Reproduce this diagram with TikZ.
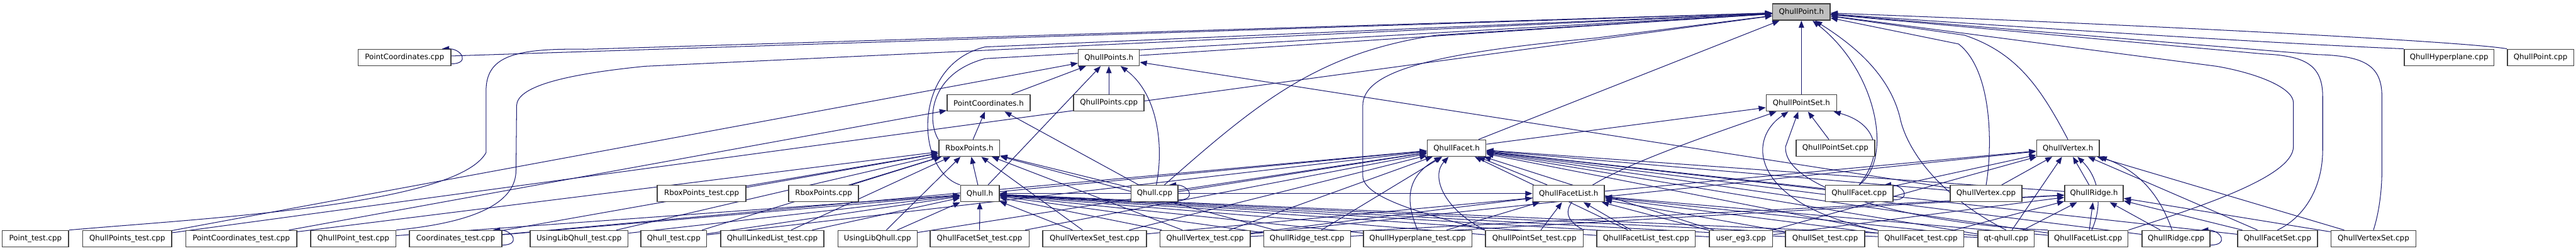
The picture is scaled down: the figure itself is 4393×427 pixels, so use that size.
\documentclass[tikz,border=0pt]{standalone}
\usepackage{fontspec}
\setmainfont{DejaVu Sans}
\usetikzlibrary{arrows.meta,backgrounds}
\definecolor{edgeNavy}{RGB}{25,25,112}
\definecolor{boxEdge}{RGB}{64,64,64}
\definecolor{rootGray}{RGB}{191,191,191}
\tikzset{
  fileBox/.style={draw=boxEdge,line width=0.8pt,fill=white,inner sep=0pt,
    minimum height=14pt,minimum width=#1*0.5pt,
    font=\fontsize{6.35}{7.6}\selectfont},
  rootBox/.style={fileBox=#1,fill=rootGray},
  incEdge/.style={draw=edgeNavy,line width=0.55pt,-{Triangle[length=6pt,width=4.6pt]}}
}
\newcommand{\SelfLoop}[1]{%
  \draw[incEdge] ([yshift=2pt]#1.south east) .. controls +(32,0) and +(34,0) .. ([xshift=-8pt]#1.north east);}

\begin{document}
\begin{tikzpicture}[x=0.5pt,y=-0.5pt]
\useasboundingbox (0,0) rectangle (4393,427);

% the file itself
\node[rootBox=98] (qpointh) at (3072,20.5) {QhullPoint.h};

% headers and sources, top to bottom
\node[fileBox=158] (pccpp) at (690,98) {PointCoordinates.cpp};
\node[fileBox=104] (qpointsh) at (1891,98) {QhullPoints.h};
\node[fileBox=153] (qhypcpp) at (4176.5,98) {QhullHyperplane.cpp};
\node[fileBox=113] (qpointcpp) at (4332.5,98) {QhullPoint.cpp};

\node[fileBox=142] (pch) at (1686,175.5) {PointCoordinates.h};
\node[fileBox=120] (qpointscpp) at (1891,175.5) {QhullPoints.cpp};
\node[fileBox=120] (qpseth) at (3072,175.5) {QhullPointSet.h};

\node[fileBox=104] (rboxh) at (1653,252.5) {RboxPoints.h};
\node[fileBox=100] (qfaceth) at (2484,252.5) {QhullFacet.h};
\node[fileBox=134] (qpsetcpp) at (3130,252.5) {QhullPointSet.cpp};
\node[fileBox=107] (qvertexh) at (3526.5,252.5) {QhullVertex.h};

\node[fileBox=151] (rboxtest) at (1196.5,330) {RboxPoints\_test.cpp};
\node[fileBox=119] (rboxcpp) at (1404.5,330) {RboxPoints.cpp};
\node[fileBox=66] (qhullh) at (1671,330) {Qhull.h};
\node[fileBox=80] (qhullcpp) at (1969,330) {Qhull.cpp};
\node[fileBox=122] (qflisth) at (2675,330) {QhullFacetList.h};
\node[fileBox=115] (qfacetcpp) at (3170.5,330) {QhullFacet.cpp};
\node[fileBox=122] (qvertexcpp) at (3387,330) {QhullVertex.cpp};
\node[fileBox=100] (qridgeh) at (3571,330) {QhullRidge.h};

% bottom row
\node[fileBox=113] (ptest) at (60.5,407) {Point\_test.cpp};
\node[fileBox=152] (qpointstest) at (217,407) {QhullPoints\_test.cpp};
\node[fileBox=189] (pctest) at (411.5,407) {PointCoordinates\_test.cpp};
\node[fileBox=145] (qpointtest) at (602.5,407) {QhullPoint\_test.cpp};
\node[fileBox=158] (coordtest) at (777,407) {Coordinates\_test.cpp};
\node[fileBox=167] (ulqtest) at (987.5,407) {UsingLibQhull\_test.cpp};
\node[fileBox=112] (qhulltest) at (1149,407) {Qhull\_test.cpp};
\node[fileBox=176] (qlltest) at (1317,407) {QhullLinkedList\_test.cpp};
\node[fileBox=135] (ulqcpp) at (1496.5,407) {UsingLibQhull.cpp};
\node[fileBox=169] (qfsettest) at (1670.5,407) {QhullFacetSet\_test.cpp};
\node[fileBox=177] (qvsettest) at (1866.5,407) {QhullVertexSet\_test.cpp};
\node[fileBox=154] (qvtest) at (2055,407) {QhullVertex\_test.cpp};
\node[fileBox=148] (qrtest) at (2229,407) {QhullRidge\_test.cpp};
\node[fileBox=185] (qhyptest) at (2417.5,407) {QhullHyperplane\_test.cpp};
\node[fileBox=167] (qpsettest) at (2616.5,407) {QhullPointSet\_test.cpp};
\node[fileBox=168] (qflisttest) at (2807,407) {QhullFacetList\_test.cpp};
\node[fileBox=108] (usereg3) at (2969,407) {user\_eg3.cpp};
\node[fileBox=135] (qsettest) at (3112.5,407) {QhullSet\_test.cpp};
\node[fileBox=146] (qfacettest) at (3276,407) {QhullFacet\_test.cpp};
\node[fileBox=96] (qtqhull) at (3421,407) {qt-qhull.cpp};
\node[fileBox=136] (qflistcpp) at (3561,407) {QhullFacetList.cpp};
\node[fileBox=116] (qridgecpp) at (3711,407) {QhullRidge.cpp};
\node[fileBox=136] (qfsetcpp) at (3884,407) {QhullFacetSet.cpp};
\node[fileBox=145] (qvsetcpp) at (4047.5,407) {QhullVertexSet.cpp};

\begin{scope}[on background layer]
% straight includes
\foreach \src/\dst in {
  pccpp/qpointh, qpointsh/qpointh, qpseth/qpointh, qfaceth/qpointh, qpointstest/qpointh,
  pch/qpointsh, qpointscpp/qpointsh, qhullh/qpointsh, qpointstest/qpointsh, qvertexcpp/qpointsh,
  rboxh/pch, pctest/pch, qhullcpp/pch,
  qfaceth/qpseth, qpsetcpp/qpseth,
  rboxtest/rboxh, rboxcpp/rboxh, qhullh/rboxh, ulqcpp/rboxh, qhulltest/rboxh, qlltest/rboxh,
  qvsettest/rboxh, qvtest/rboxh, qrtest/rboxh, coordtest/rboxh, pctest/rboxh, qhullcpp/rboxh, ulqtest/rboxh,
  qhulltest/qhullh, qlltest/qhullh, ulqcpp/qhullh, ulqtest/qhullh, qpointtest/qhullh, qfsettest/qhullh,
  qvsettest/qhullh, qvtest/qhullh, qrtest/qhullh, qhyptest/qhullh, qpsettest/qhullh, qflisttest/qhullh,
  usereg3/qhullh, qfacettest/qhullh, qtqhull/qhullh, qhullcpp/qhullh, coordtest/qhullh, qsettest/qhullh,
  qhullh/qfaceth, qflisth/qfaceth, qhullcpp/qfaceth, qfacettest/qfaceth, qrtest/qfaceth, qvtest/qfaceth,
  qvsettest/qfaceth, qfsettest/qfaceth, qflisttest/qfaceth, usereg3/qfaceth, qtqhull/qfaceth,
  qflistcpp/qfaceth, qfsetcpp/qfaceth, qvertexcpp/qfaceth, qridgeh/qfaceth, qridgecpp/qfaceth,
  ulqcpp/qfaceth, qhulltest/qfaceth, coordtest/qfaceth, qfacetcpp/qfaceth,
  qhullh/qflisth, qhyptest/qflisth, qpsettest/qflisth, qflisttest/qflisth, usereg3/qflisth,
  qfacettest/qflisth, qtqhull/qflisth, qflistcpp/qflisth, qvtest/qflisth, qsettest/qflisth,
  qvertexcpp/qvertexh, qridgeh/qvertexh, qvtest/qvertexh, qvsettest/qvertexh, usereg3/qvertexh,
  qfacetcpp/qvertexh, qtqhull/qvertexh, qfsetcpp/qvertexh, qvsetcpp/qvertexh,
  qflistcpp/qridgeh, qridgecpp/qridgeh, qtqhull/qridgeh, qfacettest/qridgeh, qrtest/qridgeh,
  qfsetcpp/qridgeh, qvsetcpp/qridgeh, usereg3/qridgeh, qvtest/qridgeh}
  \draw[incEdge] (\src) -- (\dst);

% routed includes
\draw[incEdge] (qhypcpp.north west) .. controls (3900,75) and (3500,50) .. (qpointh);
\draw[incEdge] (qpointcpp.north west) .. controls (4200,70) and (3600,40) .. (qpointh);
\draw[incEdge] (ptest.north east) .. controls (350,372) and (780,350) .. (829,260) -- (829,150)
  .. controls (832,95) and (880,82) .. (1000,84) -- (qpointh);
\draw[incEdge] (qpointtest.north east) .. controls (800,380) and (880,350) .. (880,290) -- (881,180)
  .. controls (882,150) and (950,128) .. (1100,113) -- (qpointh);
\draw[incEdge] (qhullh.north west) .. controls (1560,290) and (1555,110) .. (1680,80) -- (qpointh);
\draw[incEdge] (rboxh.north west) .. controls (1580,205) and (1585,125) .. (1680,100) -- (qpointh);
\draw[incEdge] (qhullcpp) .. controls (2150,170) and (2250,90) .. (2450,60) -- (qpointh);
\draw[incEdge] (qhullcpp) .. controls (1985,250) and (1975,160) .. (qpointsh);
\draw[incEdge] (qpsettest.north west) .. controls (2450,370) and (2324,340) .. (2324,300) -- (2324,180)
  .. controls (2324,120) and (2450,90) .. (2720,65) -- (qpointh);
\draw[incEdge] (qpsettest.north west) .. controls (2460,355) and (2440,300) .. (qfaceth);
\draw[incEdge] (qhyptest.north) .. controls (2395,340) and (2400,300) .. (qfaceth);
\draw[incEdge] (qpsettest.north east) .. controls (2600,340) and (2800,270) .. (qpseth);
\draw[incEdge] (qfacetcpp.north) .. controls (3230,270) and (3200,120) .. (qpointh);
\draw[incEdge] (qfacetcpp.north) .. controls (3215,260) and (3200,210) .. (qpseth);
\draw[incEdge] (qfacettest.north west) .. controls (2990,350) and (2975,240) .. (qpseth);
\draw[incEdge] (qflistcpp.north west) .. controls (3300,385) and (3040,330) .. (3045,250) -- (qpseth);
\draw[incEdge] (qtqhull.north) .. controls (3300,330) and (3250,250) .. (3240,200)
  .. controls (3220,120) and (3150,70) .. (qpointh);
\draw[incEdge] (qvertexcpp.north) .. controls (3398,250) and (3398,120) .. (3340,75) -- (qpointh);
\draw[incEdge] (qvertexh.north) .. controls (3480,150) and (3440,90) .. (3350,60) -- (qpointh);
\draw[incEdge] (qflistcpp.north east) .. controls (3760,350) and (3911,300) .. (3911,250) -- (3911,175)
  .. controls (3911,150) and (3850,125) .. (3780,113) -- (qpointh);
\draw[incEdge] (qfsetcpp.north) .. controls (3930,370) and (3961,320) .. (3961,255) -- (3961,165)
  .. controls (3961,110) and (3930,95) .. (3860,92) -- (qpointh);
\draw[incEdge] (qvsetcpp.north) .. controls (4058,360) and (4062,320) .. (4062,290) -- (4062,165)
  .. controls (4062,110) and (4030,95) .. (3950,93) -- (qpointh);
\draw[incEdge] (qflistcpp) to[bend right=35] (qvertexh);
\draw[incEdge] (qridgecpp) to[bend right=25] (qvertexh);

% self includes
\SelfLoop{pccpp}
\SelfLoop{coordtest}
\SelfLoop{qhullcpp}
\SelfLoop{qfacetcpp}
\SelfLoop{qridgecpp}
\end{scope}
\end{tikzpicture}
\end{document}
